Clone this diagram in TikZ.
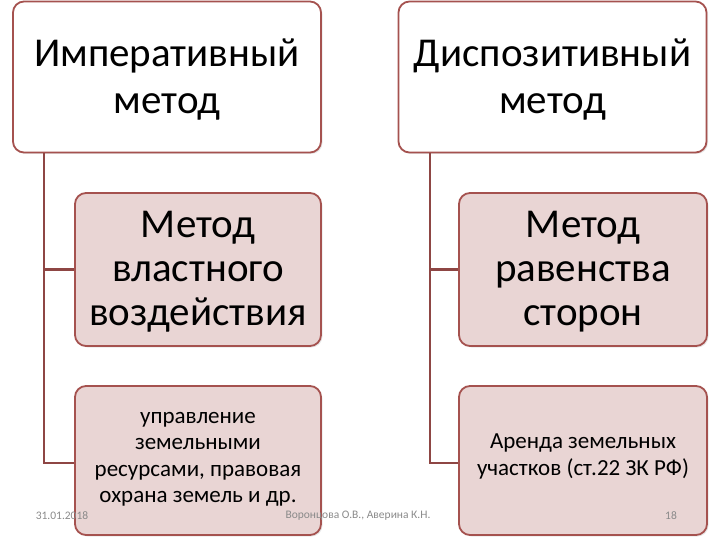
\documentclass[tikz,border=0pt]{standalone}
\usepackage{fontspec}
\setmainfont{Carlito}
\usetikzlibrary{shadows}
\definecolor{bordc}{HTML}{A5524F}
\definecolor{linec}{HTML}{8E4644}
\definecolor{pinkf}{HTML}{E9D5D4}
\definecolor{footc}{HTML}{8A8A8A}
\newcommand{\shiftlines}[2]{\raisebox{#1}[\height][\depth]{\begin{tabular}{@{}c@{}}#2\end{tabular}}}
\tikzset{
  topbox/.style={draw=bordc, line width=1.8pt, fill=white, rounded corners=11pt,
    align=center, font=\fontsize{41}{47}\selectfont, inner sep=0pt,
    drop shadow={opacity=0.18, shadow xshift=1.5pt, shadow yshift=-1.5pt}},
  subbox/.style={draw=bordc, line width=1.8pt, fill=pinkf, rounded corners=11pt,
    align=center, inner sep=0pt,
    drop shadow={opacity=0.18, shadow xshift=1.5pt, shadow yshift=-1.5pt}},
  bigtxt/.style={font=\fontsize{41}{44}\selectfont},
  smalltxt/.style={font=\fontsize{23}{26.5}\selectfont},
  conn/.style={draw=linec, line width=2.2pt},
  foot/.style={text=footc, font=\fontsize{11.5}{13}\selectfont, inner sep=0pt}
}
\begin{document}
\begin{tikzpicture}[x=1pt,y=-1pt]
\useasboundingbox (0,0) rectangle (720,540);
% top boxes
\node[topbox, minimum width=308pt, minimum height=151pt] (imp) at (167,77) {\shiftlines{-4pt}{Императивный\\метод}};
\node[topbox, minimum width=308pt, minimum height=151pt] (disp) at (552.5,77) {\shiftlines{-4pt}{Диспозитивный\\метод}};
% connectors
\coordinate (lv) at (44,153);
\coordinate (rv) at (430,153);
% second row
\node[subbox, bigtxt, minimum width=246pt, minimum height=153pt] (vlast) at (198,269.5) {\shiftlines{-3pt}{Метод\\властного\\воздействия}};
\node[subbox, bigtxt, minimum width=248pt, minimum height=153pt] (ravn) at (583,269.5) {\shiftlines{-3pt}{Метод\\равенства\\сторон}};
% third row
\node[subbox, smalltxt, minimum width=246pt, minimum height=149pt] (upr) at (198,460.5) {\shiftlines{3pt}{управление\\земельными\\ресурсами, правовая\\охрана земель и др.}};
\node[subbox, smalltxt, minimum width=248pt, minimum height=149pt] (arenda) at (583,460.5) {\shiftlines{4pt}{Аренда земельных\\участков (ст.22 ЗК РФ)}};
\draw[conn] (imp.south west -| lv) |- (vlast.west);
\draw[conn] (imp.south west -| lv) |- (upr.west |- 0,463);
\draw[conn] (disp.south west -| rv) |- (ravn.west);
\draw[conn] (disp.south west -| rv) |- (arenda.west |- 0,463);
% footer
\node[foot] (date) at (62,516) {31.01.2018};
\node[foot] (auth) at (358,516) {Воронцова О.В., Аверина К.Н.};
\node[foot] (num) at (671,516) {18};
\end{tikzpicture}
\end{document}
